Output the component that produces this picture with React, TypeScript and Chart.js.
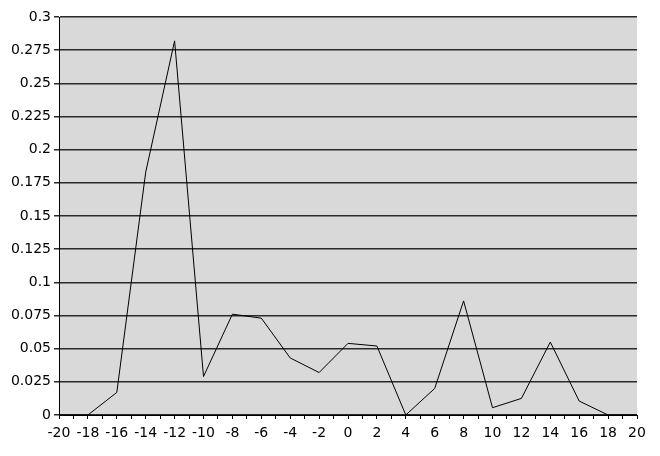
import React, { useEffect, useRef } from "react";
import { Chart, registerables } from "chart.js";

Chart.register(...registerables);

const xValues = [-20, -18, -16, -14, -12, -10, -8, -6, -4, -2, 0, 2, 4, 6, 8, 10, 12, 14, 16, 18, 20];
const yValues = [0, 0, 0.017, 0.183, 0.282, 0.029, 0.076, 0.073, 0.043, 0.032, 0.054, 0.052, 0, 0.02, 0.086, 0.0055, 0.0125, 0.055, 0.0105, 0, 0];
const yTicks = [0, 0.025, 0.05, 0.075, 0.1, 0.125, 0.15, 0.175, 0.2, 0.225, 0.25, 0.275, 0.3];

const plotBg = {
  id: "plotBg",
  beforeDraw(chart: any) {
    const { ctx, chartArea } = chart;
    ctx.save();
    ctx.fillStyle = "#d9d9d9";
    ctx.fillRect(chartArea.left, chartArea.top, chartArea.right - chartArea.left, chartArea.bottom - chartArea.top);
    ctx.restore();
  },
};

export default function App() {
  const ref = useRef<HTMLCanvasElement>(null);
  useEffect(() => {
    const font = { family: "DejaVu Sans", size: 14 };
    const chart = new Chart(ref.current!, {
      type: "line",
      data: {
        datasets: [
          {
            data: xValues.map((x, i) => ({ x, y: yValues[i] })),
            borderColor: "#000",
            borderWidth: 1,
            pointRadius: 0,
            tension: 0,
          },
        ],
      },
      options: {
        animation: false,
        responsive: false,
        layout: { padding: { top: 17, right: 23, bottom: 0, left: 0 } },
        plugins: { legend: { display: false }, tooltip: { enabled: false } },
        scales: {
          x: {
            type: "linear",
            min: -20,
            max: 20,
            afterFit: (s: any) => { s.height = 41; },
            afterBuildTicks: (s: any) => {
              const t = [];
              for (let v = -20; v <= 20; v++) t.push({ value: v });
              s.ticks = t;
            },
            ticks: {
              autoSkip: false,
              maxRotation: 0,
              padding: 6,
              color: "#000",
              font,
              callback: (v: any) => (Math.abs(v) % 2 === 0 ? String(v) : ""),
            },
            grid: { drawOnChartArea: false, tickLength: 4, color: "#000" },
            border: { color: "#000", width: 1 },
          },
          y: {
            min: 0,
            max: 0.3,
            afterFit: (s: any) => { s.width = 59; },
            afterBuildTicks: (s: any) => { s.ticks = yTicks.map((v) => ({ value: v })); },
            ticks: { padding: 3, color: "#000", font, callback: (v: any) => String(v) },
            grid: { color: "#2a2a2a", lineWidth: 1.5, tickLength: 5 },
            border: { color: "#000", width: 1 },
          },
        },
      },
      plugins: [plotBg],
    });
    return () => chart.destroy();
  }, []);
  return (
    <div style={{ position: "absolute", left: 0, top: 0, width: 660, height: 456, background: "#fff" }}>
      <canvas ref={ref} width={660} height={456} />
    </div>
  );
}
